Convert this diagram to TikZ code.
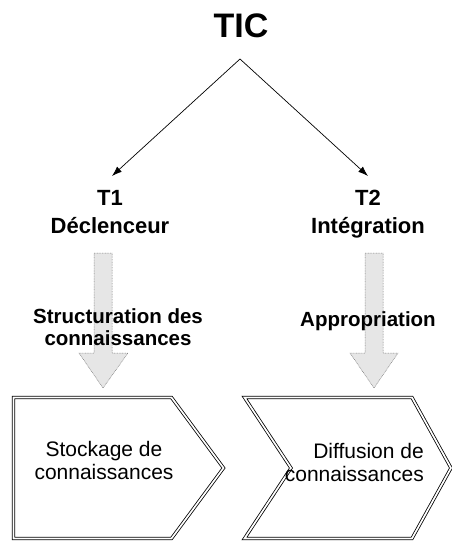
\documentclass[tikz,border=0pt]{standalone}
\usepackage{fontspec}
\setmainfont{Liberation Sans}
\usetikzlibrary{arrows.meta}
\definecolor{arrowfill}{HTML}{E6E6E6}
\definecolor{arrowedge}{HTML}{7A7A7A}
\tikzset{
  px/.style={x=1pt,y=-1pt},
  title/.style={font=\bfseries\fontsize{34}{36}\selectfont, inner sep=0pt},
  tlabel/.style={font=\bfseries\fontsize{22}{28}\selectfont, align=center, inner sep=0pt},
  flowlabel/.style={font=\bfseries\fontsize{20.5}{22}\selectfont, align=center, inner sep=0pt},
  boxtext/.style={font=\fontsize{21}{23}\selectfont, inner sep=0pt},
  link/.style={draw=black, line width=0.7pt, -{Latex[length=10pt,width=7pt]}},
  blockarrow/.style={fill=arrowfill, draw=arrowedge, line width=0.5pt, dash pattern=on 0.8pt off 0.8pt},
  chevron/.style={draw=black, double=white, double distance=1.7pt, line width=0.8pt, line join=miter},
}
\begin{document}
\begin{tikzpicture}[px]
\useasboundingbox (0,0) rectangle (451,542);
% title
\node[title] (tic) at (241,26) {TIC};
\node[tlabel, anchor=north] (t1) at (110,190) {T1\\Déclenceur};
\node[tlabel, anchor=north] (t2) at (368,190) {T2\\Intégration};
\coordinate (apex) at (240,59);
\coordinate (tip1) at (112,176);
\coordinate (tip2) at (368,176);
\draw[link] (apex) -- (tip1);
\draw[link] (apex) -- (tip2);
% block arrows
\draw[blockarrow] (94,253) -- (112,253) -- (112,353) -- (128,353) -- (103,388) -- (79,353) -- (94,353) -- cycle;
\draw[blockarrow] (365,253) -- (383,253) -- (383,353) -- (398,353) -- (374,388) -- (350,353) -- (365,353) -- cycle;
\node[flowlabel] (struct) at (118,327) {Structuration des\\connaissances};
\node[flowlabel] (appro) at (368,321) {Appropriation};
% chevrons
\draw[chevron] (13.5,397.5) -- (171.5,397.5) -- (223.5,468) -- (171.5,538.5) -- (13.5,538.5) -- cycle;
\draw[chevron] (244.5,397.5) -- (412,397.5) -- (451,468) -- (412,538.5) -- (244.5,538.5) -- (291,468) -- cycle;
\node[boxtext, align=center] (stock) at (104,460) {Stockage de\\connaissances};
\node[boxtext, align=right, anchor=east] (diff) at (424,462) {Diffusion de\\connaissances};
\end{tikzpicture}
\end{document}
